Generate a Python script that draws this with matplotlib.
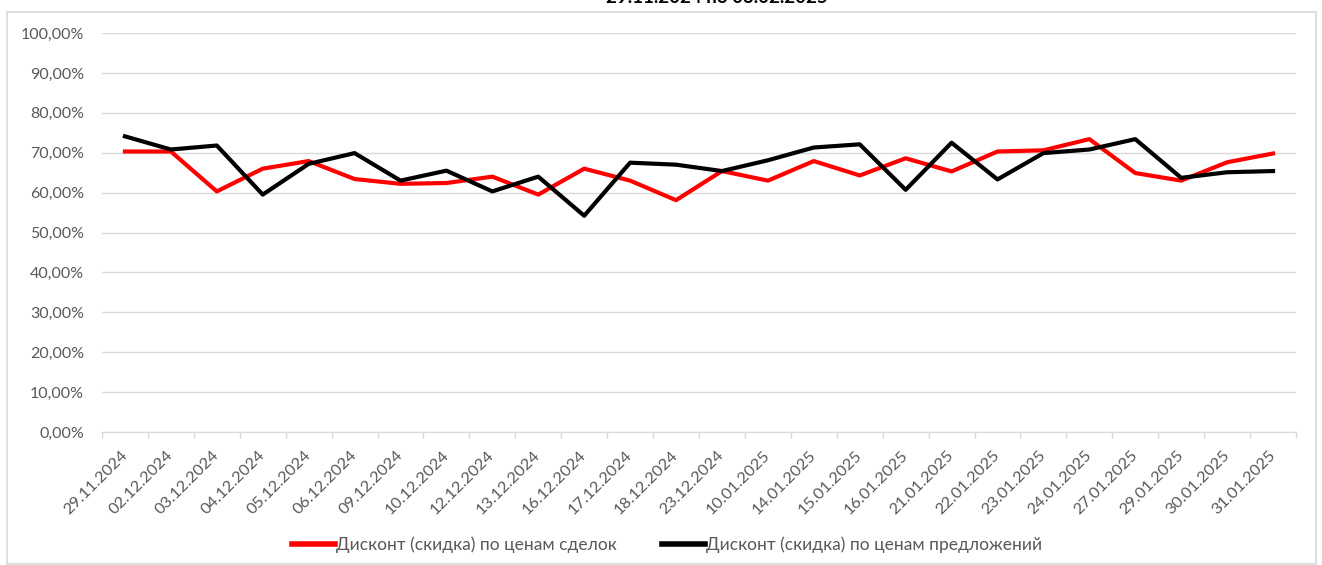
import matplotlib
matplotlib.use("Agg")
import matplotlib.pyplot as plt
from matplotlib.ticker import FuncFormatter, FixedLocator
from matplotlib.patches import Rectangle

plt.rcParams['font.family'] = ['Lato', 'Open Sans', 'DejaVu Sans']

dates = ["29.11.2024", "02.12.2024", "03.12.2024", "04.12.2024", "05.12.2024",
         "06.12.2024", "09.12.2024", "10.12.2024", "12.12.2024", "13.12.2024",
         "16.12.2024", "17.12.2024", "18.12.2024", "23.12.2024", "10.01.2025",
         "14.01.2025", "15.01.2025", "16.01.2025", "21.01.2025", "22.01.2025",
         "23.01.2025", "24.01.2025", "27.01.2025", "29.01.2025", "30.01.2025",
         "31.01.2025"]

deals = [70.3, 70.3, 60.3, 66.0, 67.9, 63.4, 62.2, 62.4, 64.0, 59.5,
         66.0, 63.0, 58.1, 65.4, 63.0, 67.9, 64.3, 68.6, 65.3, 70.3,
         70.6, 73.4, 64.9, 63.0, 67.6, 69.8]

offers = [74.1, 70.8, 71.8, 59.5, 67.2, 69.9, 63.0, 65.5, 60.3, 64.0,
          54.2, 67.5, 67.0, 65.4, 68.1, 71.3, 72.1, 60.7, 72.5, 63.3,
          69.9, 70.8, 73.4, 63.7, 65.1, 65.4]

label_deals = "Дисконт (скидка) по ценам сделок"
label_offers = "Дисконт (скидка) по ценам предложений"
title_text = "29.11.2024 по 03.02.2025"

W, H = 1322, 565
fig = plt.figure(figsize=(W / 100, H / 100), dpi=100)

# chart frame
fig.patches.append(Rectangle((7 / W, 1 - 564 / H), (1316 - 7) / W, (564 - 12) / H,
                             transform=fig.transFigure, fill=False,
                             edgecolor='#d9d9d9', linewidth=1.2))

# title, cut off at the top edge as in the reference
fig.text(717 / W, 1 - 3 / H, title_text, ha='center', va='baseline',
         fontsize=13.5, fontweight='bold', color='black')

ax = fig.add_axes([102 / W, 133 / H, (1296 - 102) / W, (532 - 133) / H])
x = list(range(len(dates)))
ax.plot(x, [v / 100 for v in deals], color='#ff0000', lw=3.0, label=label_deals,
        solid_joinstyle='round', zorder=3)
ax.plot(x, [v / 100 for v in offers], color='#000000', lw=3.0, label=label_offers,
        solid_joinstyle='round', zorder=4)

ax.set_xlim(-0.5, len(dates) - 0.5)
ax.set_ylim(0, 1.0)
ax.set_yticks([i / 10 for i in range(11)])
ax.yaxis.set_major_formatter(FuncFormatter(lambda v, p: f"{v * 100:.2f}%".replace('.', ',')))
ax.grid(axis='y', color='#d9d9d9', lw=1)
ax.set_axisbelow(True)
for s in ['top', 'right', 'left']:
    ax.spines[s].set_visible(False)
ax.spines['bottom'].set_color('#d9d9d9')
ax.tick_params(axis='y', length=0, pad=13, labelsize=11.5, labelcolor='#595959')

ax.set_xticks(x)
ax.set_xticklabels(dates, rotation=45, ha='right', va='center', rotation_mode='anchor')
ax.tick_params(axis='x', which='major', length=0, pad=15, labelsize=11.8, labelcolor='#595959')
ax.xaxis.set_minor_locator(FixedLocator([i - 0.5 for i in range(len(dates) + 1)]))
ax.tick_params(axis='x', which='minor', length=4, color='#d9d9d9', width=1)

leg = fig.legend(loc='center', bbox_to_anchor=(667 / W, 1 - 545 / H), ncol=2,
                 frameon=False, fontsize=12.5, handlelength=2.5, handletextpad=0.05,
                 columnspacing=2.6)
for t in leg.get_texts():
    t.set_color('#595959')
for l in leg.get_lines():
    l.set_linewidth(4)

fig.savefig("out.png", dpi=100, facecolor='white')
